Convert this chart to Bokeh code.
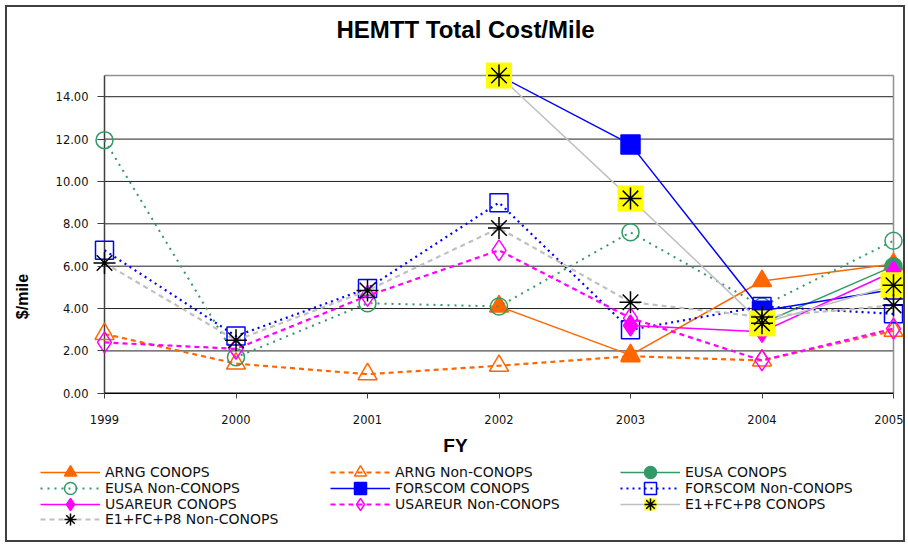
import math
from bokeh.plotting import figure
from bokeh.layouts import column
from bokeh.models import ColumnDataSource, Legend, LegendItem, FixedTicker, Range1d, CustomJSTickFormatter
from bokeh.embed import file_html
from bokeh.resources import INLINE

nan = float("nan")

# ---- data ----
years = [1999, 2000, 2001, 2002, 2003, 2004, 2005]
arng_conops      = [nan, nan, nan, 4.10, 1.80, 5.30, 6.10]
arng_non         = [2.80, 1.40, 0.90, 1.30, 1.75, 1.55, 2.95]
eusa_conops      = [nan, nan, nan, nan, nan, 3.30, 6.00]
eusa_non         = [11.95, 1.70, 4.25, 4.10, 7.60, 4.10, 7.20]
forscom_conops   = [nan, nan, nan, 15.00, 11.75, 3.90, 4.90]
forscom_non      = [6.75, 2.70, 4.95, 9.00, 3.00, 4.10, 3.75]
usareur_conops   = [nan, nan, nan, nan, 3.20, 2.90, 5.75]
usareur_non      = [2.40, 2.10, 4.60, 6.75, 3.55, 1.55, 3.05]
e1_conops        = [nan, nan, nan, 15.00, 9.20, 3.30, 5.10]
e1_non           = [6.15, 2.50, 4.85, 7.80, 4.30, 3.60, 4.15]

series_names = ["ARNG CONOPS", "ARNG Non-CONOPS", "EUSA CONOPS", "EUSA Non-CONOPS",
                "FORSCOM CONOPS", "FORSCOM Non-CONOPS", "USAREUR CONOPS",
                "USAREUR Non-CONOPS", "E1+FC+P8 CONOPS", "E1+FC+P8 Non-CONOPS"]
series_values = [arng_conops, arng_non, eusa_conops, eusa_non, forscom_conops,
                 forscom_non, usareur_conops, usareur_non, e1_conops, e1_non]
y_ticks = [0, 2, 4, 6, 8, 10, 12, 14]
y_max = 15
title_text = "HEMTT Total Cost/Mile"
x_title = "FY"
y_title = "$/mile"

ORANGE = "#FF6600"
GREEN = "#339966"
BLUE = "#0000FF"
MAGENTA = "#FF00FF"
GRAY = "#C0C0C0"
YELLOW = "#FFFF00"

styles = [
    dict(color=ORANGE, dash="solid", lw=1.5, marker="triangle", fill=True, size=19),
    dict(color=ORANGE, dash="5 4", lw=2.2, marker="triangle", fill=False, size=19),
    dict(color=GREEN, dash="solid", lw=1.5, marker="circle", fill=True, size=17),
    dict(color=GREEN, dash="2 5", lw=2, marker="circle", fill=False, size=17),
    dict(color=BLUE, dash="solid", lw=1.5, marker="square", fill=True, size=19),
    dict(color=BLUE, dash="2 4", lw=2.2, marker="square", fill=False, size=18),
    dict(color=MAGENTA, dash="solid", lw=1.5, marker="diamond", fill=True, size=21),
    dict(color=MAGENTA, dash="5 4", lw=2.2, marker="diamond", fill=False, size=21),
    dict(color=GRAY, dash="solid", lw=1.5, marker="e1c", fill=True, size=22),
    dict(color=GRAY, dash="5 4", lw=2.2, marker="asterisk", fill=False, size=22),
]

W = 896
H = 533
TOP = 45            # frame top inside the figure
PX_X = 131.5        # pixels per year
PX_Y = 21.15        # pixels per unit
AX_LEFT = 97        # x pixel of the first year inside the figure
AX_BOTTOM = 386     # y pixel of value 0 inside the figure
AX_TOP = 68         # y pixel of y_max inside the figure
x0, x1 = years[0], years[-1]

p = figure(width=W, height=H, output_backend="svg", toolbar_location=None,
           x_range=Range1d(x0 - AX_LEFT / PX_X, x1 + (W - AX_LEFT - 6 * PX_X) / PX_X),
           y_range=Range1d(-(H - AX_BOTTOM) / PX_Y, y_max + (AX_TOP - TOP) / PX_Y),
           min_border_left=0, min_border_right=0, min_border_top=TOP, min_border_bottom=0)
p.background_fill_color = "white"
p.border_fill_color = "white"
p.outline_line_color = None

p.title.text = title_text
p.title.text_font = "Liberation Sans"
p.title.text_font_size = "24px"
p.title.text_font_style = "bold"
p.title.text_color = "black"
p.title.align = "left"
p.title.vertical_align = "top"
p.title.offset = 329
p.title.standoff = 16

p.xgrid.visible = False
p.ygrid.visible = False

grid_vals = y_ticks[1:]
p.segment(x0=[x0] * len(grid_vals), x1=[x1] * len(grid_vals), y0=grid_vals, y1=grid_vals,
          line_color="#202020", line_width=1)
p.segment(x0=[x0, x1], x1=[x1, x1], y0=[y_max, 0], y1=[y_max, y_max],
          line_color="#909090", line_width=1.5)
p.segment(x0=[x0], x1=[x0], y0=[0], y1=[y_max], line_color="#404040", line_width=1.5)
p.segment(x0=[x0], x1=[x1], y0=[0], y1=[0], line_color="black", line_width=1.5)

p.xaxis.fixed_location = 0
p.xaxis.ticker = FixedTicker(ticks=years)
p.xaxis.major_label_text_font = "DejaVu Sans"
p.xaxis.major_label_text_font_size = "11.5px"
p.xaxis.major_label_text_color = "#111111"
p.xaxis.major_tick_out = 5
p.xaxis.major_tick_in = 0
p.xaxis.minor_tick_line_color = None
p.xaxis.axis_line_color = None
p.xaxis.major_tick_line_color = "#404040"
p.xaxis.major_label_standoff = 17
p.xaxis.axis_label = x_title
p.xaxis.axis_label_text_font = "Liberation Sans"
p.xaxis.axis_label_text_font_size = "19px"
p.xaxis.axis_label_text_font_style = "bold"
p.xaxis.axis_label_text_color = "black"
p.xaxis.axis_label_standoff = 7

p.yaxis.fixed_location = x0
p.yaxis.ticker = FixedTicker(ticks=y_ticks)
p.yaxis.formatter = CustomJSTickFormatter(code="return tick.toFixed(2);")
p.yaxis.major_label_text_font = "DejaVu Sans"
p.yaxis.major_label_text_font_size = "11.5px"
p.yaxis.major_label_text_color = "#111111"
p.yaxis.major_tick_out = 7
p.yaxis.major_tick_in = 0
p.yaxis.minor_tick_line_color = None
p.yaxis.axis_line_color = None
p.yaxis.major_tick_line_color = "#404040"
p.yaxis.major_label_standoff = 9
p.yaxis.axis_label = y_title
p.yaxis.axis_label_text_font = "Liberation Sans"
p.yaxis.axis_label_text_font_size = "16px"
p.yaxis.axis_label_text_font_style = "bold"
p.yaxis.axis_label_text_color = "black"
p.yaxis.axis_label_standoff = 22

items = []
for name, vals, st in zip(series_names, series_values, styles):
    src = ColumnDataSource(dict(x=years, y=vals))
    rs = [p.line("x", "y", source=src, line_color=st["color"], line_width=st["lw"],
                 line_dash=st["dash"])]
    if st["marker"] == "e1c":
        rs.append(p.scatter("x", "y", source=src, marker="square", size=26,
                            fill_color=YELLOW, line_color=None))
        rs.append(p.scatter("x", "y", source=src, marker="asterisk", size=22,
                            line_color="black", line_width=1.5))
    elif st["marker"] == "asterisk":
        rs.append(p.scatter("x", "y", source=src, marker="asterisk", size=st["size"],
                            line_color="black", line_width=1.5))
    else:
        rs.append(p.scatter("x", "y", source=src, marker=st["marker"], size=st["size"],
                            line_color=st["color"], line_width=1.5,
                            fill_color=st["color"] if st["fill"] else None))
    items.append(LegendItem(label=name, renderers=rs))

# one horizontal legend per row (3 entries per row), rows 16 px apart
row_bottoms = [53, 37, 21, 6]
for r, yb in enumerate(row_bottoms):
    lg = Legend(items=items[3 * r:3 * r + 3], location=(33, yb), orientation="horizontal",
                glyph_width=60, glyph_height=30, label_height=15, label_width=225, spacing=0,
                label_standoff=5, padding=0, margin=0,
                border_line_color=None, background_fill_alpha=0,
                label_text_font="DejaVu Sans", label_text_font_size="14px",
                label_text_color="#111111")
    p.add_layout(lg, "center")

layout = column(p, styles={"border": "2px solid #404040", "margin": "5px 0 0 5px"})
open("out.html", "w").write(file_html(layout, INLINE))
